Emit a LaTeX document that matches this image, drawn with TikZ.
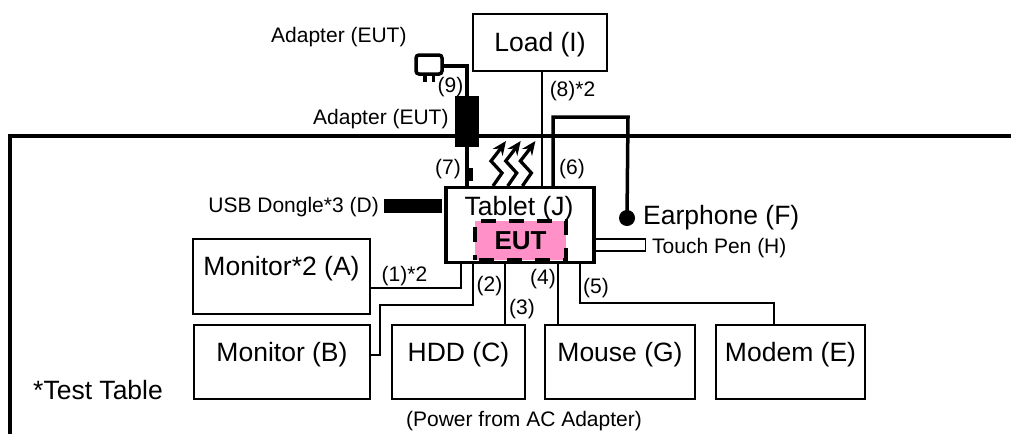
\documentclass[tikz,border=0pt]{standalone}
\usepackage{fontspec}
\setmainfont{Liberation Sans}
\usetikzlibrary{arrows.meta}
\definecolor{eutpink}{RGB}{255,145,200}
\tikzset{box/.style={draw,line width=1.7pt,inner sep=0pt,font=\fontsize{26.5}{30}\selectfont},
	raised/.style={text depth=21pt},
	big/.style={inner sep=0pt,font=\fontsize{26.5}{30}\selectfont},
	lbl/.style={inner sep=0pt,yshift=-1.5pt,font=\fontsize{21}{24}\selectfont},
	part/.style={fill=black,inner sep=0pt},
	wire/.style={line width=1.8pt},
	cord/.style={line width=3.5pt}}

\begin{document}
\begin{tikzpicture}[x=1pt,y=-1pt]
	\useasboundingbox (0,0) rectangle (1011,434);
	% table edge
	\coordinate (tl) at (9.5,136);
	\coordinate (tb) at (9.5,434);
	\coordinate (tr) at (1011,136);
	\draw[line width=4pt] (tb) -- (tl) -- (tr);
	% boxes
	\node[box,text height=23pt,minimum width=134pt,minimum height=57pt] (load) at (540,42.5) {Load (I)};
	\node[box,raised,minimum width=177pt,minimum height=75pt] (monA) at (281.5,276.5) {Monitor*2 (A)};
	\node[box,raised,minimum width=176pt,minimum height=74pt] (monB) at (282,362) {Monitor (B)};
	\node[box,raised,minimum width=133pt,minimum height=74pt] (hdd) at (458.5,362) {HDD (C)};
	\node[box,raised,minimum width=150pt,minimum height=74pt] (mouse) at (620,362) {Mouse (G)};
	\node[box,raised,minimum width=149pt,minimum height=74pt] (modem) at (790.5,362) {Modem (E)};
	% tablet
	\node[draw,line width=3.5pt,inner sep=0pt,minimum width=148pt,minimum height=75pt] (tablet) at (520,225) {};
	\node[big] (tabletlbl) at (519,209) {Tablet (J)};
	\node[fill=eutpink,inner sep=0pt,minimum width=91pt,minimum height=39pt,font=\fontsize{26}{30}\selectfont\bfseries] (eut) at (520.5,240.5) {EUT};
	\draw[line width=3.5pt,dash pattern=on 15pt off 13pt,dash phase=10pt] (eut.south west) rectangle (eut.north east);
	% small parts
	\node[part,minimum width=58pt,minimum height=14pt] (dongle) at (413,206) {};
	\node[draw,line width=1.7pt,inner sep=0pt,minimum width=51pt,minimum height=12pt] (pen) at (620,245) {};
	\node[part,minimum width=24pt,minimum height=51pt] (adapter) at (467,121.5) {};
	\node[draw,line width=3.5pt,rounded corners=3pt,inner sep=0pt,minimum width=26pt,minimum height=19pt] (plug) at (429,64.5) {};
	\node[part,minimum width=3.5pt,minimum height=8pt] (pinA) at (425,78) {};
	\node[part,minimum width=3.5pt,minimum height=8pt] (pinB) at (433.5,78) {};
	\node[part,minimum width=6pt,minimum height=13pt] (core) at (470,174.5) {};
	\node[part,circle,minimum size=16pt] (earphone) at (627,218) {};
	% connectors
	\coordinate (l8) at (542,71);
	\coordinate (t8) at (542,187);
	\draw[wire] (l8) -- (t8);
	\coordinate (t1) at (461,263);
	\coordinate (a1) at (370,288);
	\draw[wire] (t1) |- (a1);
	\coordinate (t2) at (473,263);
	\coordinate (c2) at (380,305);
	\coordinate (b2) at (370,355);
	\draw[wire] (t2) |- (c2) |- (b2);
	\coordinate (t3) at (505,263);
	\coordinate (h3) at (505,325);
	\draw[wire] (t3) -- (h3);
	\coordinate (t4) at (558,263);
	\coordinate (m4) at (558,325);
	\draw[wire] (t4) -- (m4);
	\coordinate (t5) at (580,263);
	\coordinate (c5) at (774,303);
	\coordinate (e5) at (774,325);
	\draw[wire] (t5) |- (c5) -- (e5);
	% thick cords
	\coordinate (t6) at (553,187);
	\coordinate (c6) at (628,117);
	\draw[cord] (t6) |- (c6) -- (earphone.center);
	\coordinate (t7) at (467,187);
	\draw[cord] (t7) -- (adapter.south -| t7);
	\coordinate (c9) at (467,66);
	\draw[cord] (plug.east |- c9) -- (c9) -- (adapter.north -| c9);
	% heat
	\foreach \i in {0,1,2}
		\draw[line width=3.3pt,-{Stealth[length=14pt,width=12pt]}] (493+\i*14.7,186) -- (502+\i*14.7,173) -- (491+\i*14.7,161) -- (498+\i*14.7,152) -- (506+\i*14.7,141);
	% labels
	\node[lbl,anchor=west] (adtop) at (271,36) {Adapter (EUT)};
	\node[lbl,anchor=west] (admid) at (313,118) {Adapter (EUT)};
	\node[lbl,anchor=east] (dongletxt) at (379,206) {USB Dongle*3 (D)};
	\node[big,anchor=west] (eartxt) at (643,218) {Earphone (F)};
	\node[lbl,anchor=west] (pentxt) at (652,247) {Touch Pen (H)};
	\node[big,anchor=west] (tabletxt) at (33,390) {*Test Table};
	\node[lbl] (power) at (524,420) {(Power from AC Adapter)};
	\node[lbl] (n1) at (404.5,275) {(1)*2};
	\node[lbl] (n2) at (489.5,285) {(2)};
	\node[lbl] (n3) at (522,308) {(3)};
	\node[lbl] (n4) at (543,278) {(4)};
	\node[lbl] (n5) at (596,287) {(5)};
	\node[lbl] (n6) at (572,168) {(6)};
	\node[lbl] (n7) at (448,168) {(7)};
	\node[lbl] (n8) at (572.5,90) {(8)*2};
	\node[lbl] (n9) at (450.5,86) {(9)};
\end{tikzpicture}
\end{document}
